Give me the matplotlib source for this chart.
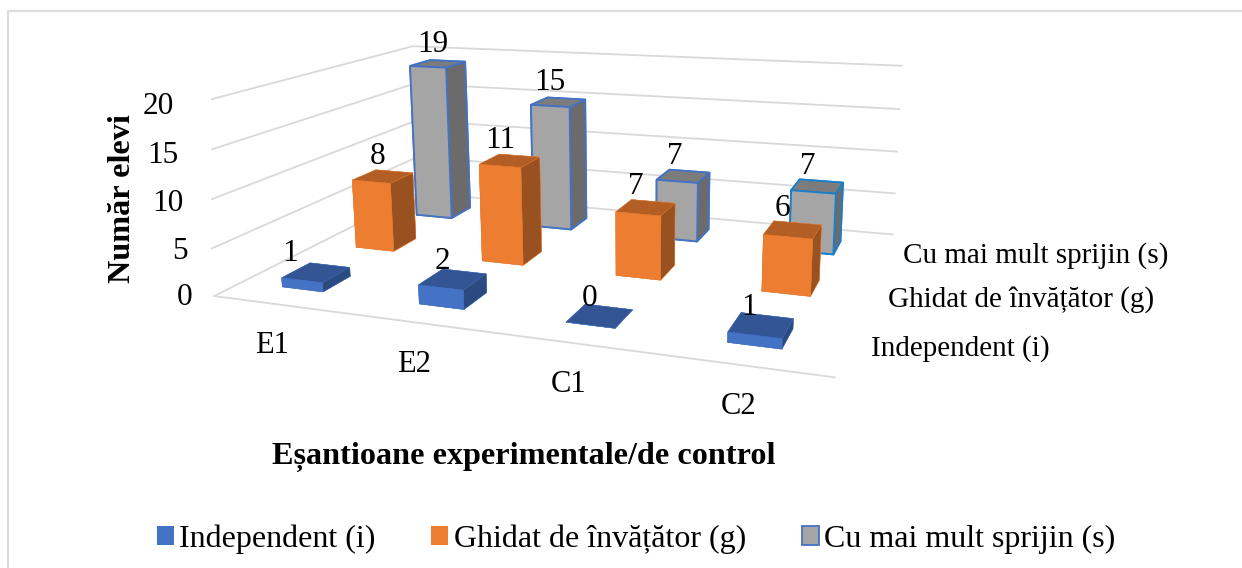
import matplotlib
matplotlib.use("Agg")
import matplotlib.pyplot as plt
from matplotlib.patches import Patch
from matplotlib.lines import Line2D
from mpl_toolkits.mplot3d import proj3d

W, H = 1242, 568

categories = ["E1", "E2", "C1", "C2"]
series_names = ["Independent (i)", "Ghidat de învățător (g)", "Cu mai mult sprijin (s)"]
independent = [1, 2, 0, 1]
ghidat = [8, 11, 7, 6]
sprijin = [19, 15, 7, 7]
z_ticks = [0, 5, 10, 15, 20]

plt.rcParams["font.family"] = ["Liberation Serif", "DejaVu Serif"]

fig = plt.figure(figsize=(W / 100, H / 100), dpi=100)

# view fitted against the corners of the chart box in the reference
size, cx, cy = 712.6, 566.87, 383.67
ax = fig.add_axes([(cx - size / 2) / W, (cy - size / 2) / H, size / W, size / H], projection="3d")
ax.set_xlim(0, 4)
ax.set_ylim(0, 3)
ax.set_zlim(0, 20)
ax.view_init(elev=13.658, azim=-69.167, roll=0.67)
ax.set_proj_type("persp", focal_length=0.3062)
ax.set_box_aspect((1, 0.7049, 0.3192))
ax.set_axis_off()
ax.patch.set_alpha(0)
ax.computed_zorder = False


# Text at a 3D point, placed as ordinary 2D text in the projected position
def label(x, y, z, s, **kwargs):
    px, py, _ = proj3d.proj_transform(x, y, z, ax.get_proj())
    ax.text2D(px, py, s, transform=ax.transData, zorder=100, **kwargs)


# Gridlines on the two walls
for z in z_ticks:
    ax.plot([0, 0, 4], [0, 3, 3], [z, z, z], color="#D9D9D9", lw=1.3, zorder=1)
    label(-0.18, 0, z - 0.5, str(z), ha="right", va="center", fontsize=22.5)
ax.plot([0, 4], [0, 0], [0, 0], color="#D9D9D9", lw=1.3, zorder=1)

# front, top, side, edge
faces = [
    ("#4472C4", "#335593", "#2B4A80", "#4472C4"),
    ("#ED7D31", "#B25E24", "#9A5120", "#ED7D31"),
    ("#A5A5A5", "#7C7C7C", "#6B6B6B", "#4472C4"),
]
dx, dy = 0.315, 0.36
bar_x = [0.475, 1.5, 2.5, 3.5]
values = [independent, ghidat, sprijin]
for j in range(2, -1, -1):
    front, top, side, edge = faces[j]
    for i in range(4):
        v = values[j][i]
        bar_edge = "#1A7FC9" if (j == 2 and i == 3) else edge
        ax.bar3d(bar_x[i] - dx / 2, j + 0.5 - dy / 2, 0, dx, dy, v,
                 color=[top, top, front, side, side, side], shade=False,
                 edgecolor=bar_edge, linewidth=1.3 if j == 2 else 0.3,
                 zorder=10 + (2 - j) * 10 + i)
        # the first label sits further left in the original
        lx = i + 0.27 if (i == 0 and j == 0) else i + 0.43
        lz = v + (0.2 if j == 0 else 0.6)
        label(lx, j + 0.5, lz, str(v), ha="center", va="bottom", fontsize=22.5)

for i, name in enumerate(categories):
    label(0.87 + 0.91 * i, -0.65 + 0.03 * i, 0, name, ha="center", va="center", fontsize=22)
series_y = [0.5, 1.42, 2.45]
for j, name in enumerate(series_names):
    label(4.13, series_y[j], 0, name, ha="left", va="center", fontsize=21)

fig.text(123 / W, 1 - 199 / H, "Număr elevi", rotation=90, ha="center", va="center",
         fontsize=23.2, fontweight="bold")
fig.text(524 / W, 1 - 457 / H, "Eșantioane experimentale/de control", ha="center", va="center",
         fontsize=23.2, fontweight="bold")

handles = [Patch(facecolor="#4472C4"), Patch(facecolor="#ED7D31"),
           Patch(facecolor="#A5A5A5", edgecolor="#4472C4", linewidth=1.3)]
fig.legend(handles, series_names, loc="center", bbox_to_anchor=(636 / W, 1 - 539 / H), ncol=3,
           frameon=False, fontsize=23, handlelength=0.53, handleheight=0.53, handletextpad=0.17,
           columnspacing=1.75)

# Chart frame: only the left and top edges show
fig.add_artist(Line2D([7.5 / W, 7.5 / W, 1], [0, 1 - 10.5 / H, 1 - 10.5 / H],
                      transform=fig.transFigure, color="#DDDDDD", lw=1.6))

fig.savefig("out.png", dpi=100)
